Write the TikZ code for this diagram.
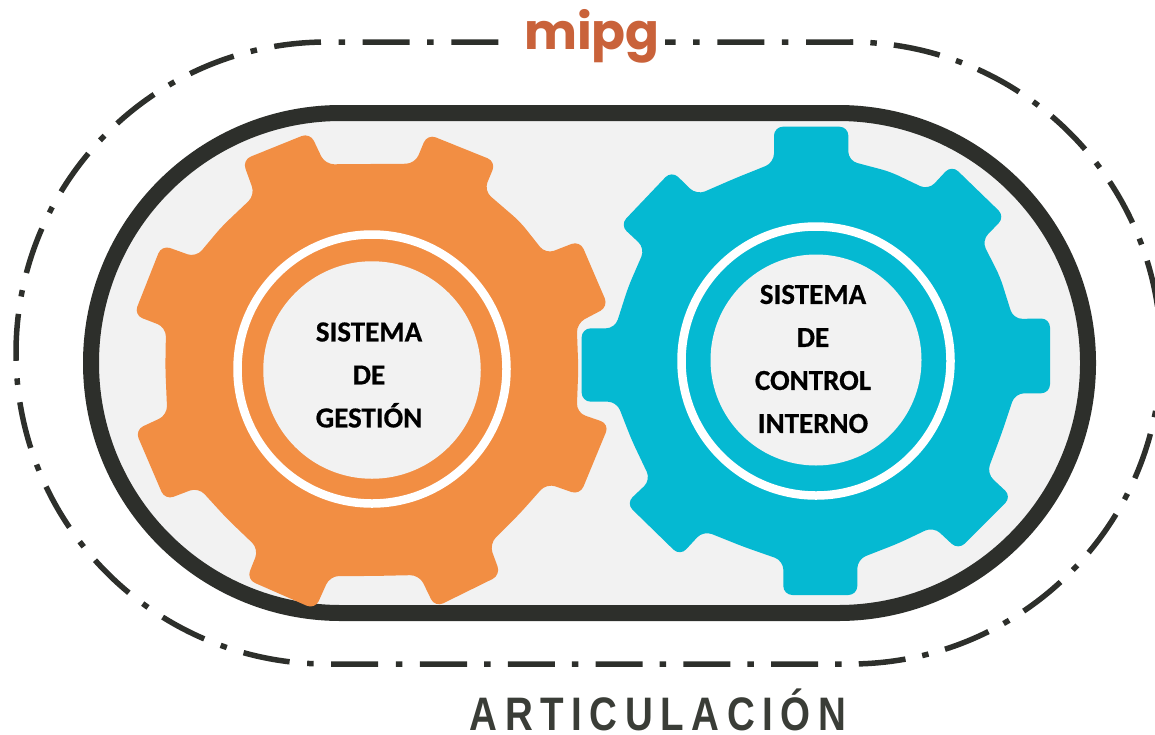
\documentclass[tikz,border=0pt]{standalone}
\usepackage{fontspec}
\setmainfont{Carlito}[BoldFeatures={FakeBold=0.6}]
\newfontfamily\logofont{Poppins}[UprightFont=* Bold]
\newfontfamily\titlefont{Liberation Sans}[UprightFont=* Bold,FakeStretch=0.82,LetterSpace=16]
\tikzset{
  trackline/.style={draw=trackdark,line width=16pt,fill=panelgrey},
  dashoutline/.style={draw=trackdark,line width=5.5pt},
  gearorange/.style={fill=gearO,rounded corners=9pt},
  gearblue/.style={fill=gearB,rounded corners=9pt},
  ringwhite/.style={circle,draw=white,line width=8.5pt,inner sep=0pt,outer sep=0pt,minimum size=#1},
  hubcircle/.style={circle,fill=panelgrey,inner sep=0pt,outer sep=0pt,minimum size=#1},
  geartext/.style={align=center,font=\fontsize{29}{43}\selectfont\bfseries,text=black,inner sep=0pt}
}
\definecolor{trackdark}{HTML}{2D2F2B}
\definecolor{panelgrey}{HTML}{F2F2F2}
\definecolor{gearO}{HTML}{F28E43}
\definecolor{gearB}{HTML}{05B9D2}
\definecolor{logoC}{HTML}{C9623A}
\definecolor{titleC}{HTML}{3A3D37}
\begin{document}
\begin{tikzpicture}[x=1pt,y=-1pt]
\useasboundingbox (0,0) rectangle (1155,734);
\clip (0,0) rectangle (1155,734);
% outer dash-dot outline
\draw[dashoutline,dash pattern=on 47pt off 17.1pt on 6.5pt off 17.15pt]
  (420,664) -- (850,664) .. controls (1021.8,664) and (1161,524.8) .. (1161,353)
  .. controls (1161,181.2) and (1021.8,42) .. (850,42);
\draw[dashoutline,dash pattern=on 47pt off 17.6pt on 6.5pt off 17.57pt]
  (853,42) -- (327,42) .. controls (155.2,42) and (16,181.2) .. (16,353)
  .. controls (16,524.8) and (155.2,664) .. (327,664) -- (420,664);
\fill[white] (505,28) rectangle (665,56);
\node[font=\logofont\fontsize{50}{50}\selectfont,text=logoC,anchor=base,inner sep=0pt] (logo) at (592,49) {mipg};
% track
\draw[trackline,rounded corners=250pt] (91,113) rectangle (1088,613);
% orange gear
\begin{scope}[shift={(130,120)},x=0.33333pt,y=-0.33333pt]
\fill[gearorange] (585,133) -- (855,131) -- (892,42) -- (1098,125) -- (1062,212)
 -- (1170,305) -- (1247,402) -- (1350,362) -- (1435,560) -- (1340,610)
 -- (1345,745) -- (1340,878) -- (1438,912) -- (1350,1125) -- (1250,1090)
 -- (1170,1180) -- (1078,1272) -- (1112,1365) -- (915,1462) -- (868,1365)
 -- (725,1368) -- (600,1368) -- (555,1468) -- (350,1378) -- (386,1287)
 -- (290,1195) -- (205,1102) -- (105,1140) -- (15,930) -- (112,885)
 -- (106,745) -- (108,622) -- (12,585) -- (95,375) -- (198,412)
 -- (275,320) -- (375,225) -- (337,120) -- (540,38) -- cycle;
\end{scope}
% blue gear
\begin{scope}[shift={(570,120)},x=0.33333pt,y=-0.33333pt]
\fill[gearblue] (612,128) -- (612,20) -- (835,20) -- (835,122)
 -- (960,155) -- (1075,210) -- (1145,135) -- (1305,290) -- (1235,362)
 -- (1290,470) -- (1330,597) -- (1440,595) -- (1440,820) -- (1335,820)
 -- (1295,940) -- (1250,1060) -- (1325,1130) -- (1165,1290) -- (1090,1220)
 -- (985,1270) -- (862,1318) -- (862,1425) -- (640,1425) -- (640,1322)
 -- (520,1280) -- (400,1232) -- (330,1308) -- (168,1150) -- (242,1080)
 -- (185,960) -- (140,845) -- (35,845) -- (35,625) -- (135,625)
 -- (175,500) -- (225,385) -- (150,315) -- (305,152) -- (380,225)
 -- (495,175) -- cycle;
\end{scope}
% hubs
\node[ringwhite=269pt] (ringO) at (372,369) {};
\node[hubcircle=217.5pt] (hubO) at (372,370) {};
\node[ringwhite=269pt] (ringB) at (816,361) {};
\node[hubcircle=211pt] (hubB) at (816,360) {};
% labels
\node[geartext] (labO) at (369,375) {SISTEMA\\DE\\GESTIÓN};
\node[geartext] (labB) at (813,359) {SISTEMA\\DE\\CONTROL\\INTERNO};
\node[font=\titlefont\fontsize{47}{47}\selectfont,text=titleC,anchor=base,inner sep=0pt] (title) at (658,730.5) {ARTICULACIÓN};
\end{tikzpicture}
\end{document}
